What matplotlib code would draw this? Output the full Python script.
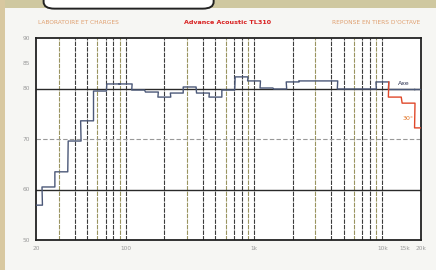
import numpy as np
import matplotlib
matplotlib.use("Agg")
import matplotlib.pyplot as plt
from matplotlib.patches import Rectangle, FancyBboxPatch

# third-octave band centres (Hz)
bands = [20, 25, 31.5, 40, 50, 63, 80, 100, 125, 160, 200, 250, 315, 400, 500,
         630, 800, 1000, 1250, 1600, 2000, 2500, 3150, 4000, 5000, 6300, 8000,
         10000, 12500, 16000, 20000]
# on-axis response (dB)
axe_db = [56.9, 60.5, 63.5, 69.6, 73.6, 79.5, 80.9, 80.9, 79.7, 79.3, 78.3,
          79.1, 80.3, 79.1, 78.3, 79.7, 82.3, 81.5, 80.1, 79.9, 81.3, 81.5,
          81.5, 81.5, 79.9, 79.9, 79.9, 81.3, 79.8, 79.8, 79.8]
# 30 degrees off-axis, top bands only
off_bands = [10000, 12500, 16000, 20000]
off_db = [81.3, 78.3, 77.1, 72.2]

y_ticks = [50, 60, 70, 80, 85, 90]
y_labels = ["50", "60", "70", "80", "85", "90"]
x_ticks = [20, 100, 1000, 10000, 15000, 20000]
x_labels = ["20", "100", "1k", "10k", "15k", "20k"]


def band_steps(centres, values):
    # step outline: each band spans f*2^(-1/6) .. f*2^(1/6)
    xs, ys = [], []
    for f, v in zip(centres, values):
        xs += [f * 2 ** (-1 / 6), f * 2 ** (1 / 6)]
        ys += [v, v]
    return xs, ys


fig = plt.figure(figsize=(4.36, 2.70), dpi=100)
fig.patch.set_facecolor("#f6f6f3")

# bits of the magazine page around the chart
fig.add_artist(Rectangle((0, 0.972), 1, 0.028, transform=fig.transFigure,
                         facecolor="#cfc8a0", edgecolor="none"))
fig.add_artist(Rectangle((0, 0), 0.012, 1, transform=fig.transFigure,
                         facecolor="#d8c8a0", edgecolor="none"))
fig.add_artist(FancyBboxPatch((0.10, 0.968), 0.39, 0.1, transform=fig.transFigure,
                              boxstyle="round,pad=0,rounding_size=0.025",
                              facecolor="white", edgecolor="#222222", lw=1.4))

ax = fig.add_axes([36 / 436, 30 / 270, 385 / 436, 202 / 270])
ax.set_facecolor("white")
ax.set_xscale("log")
ax.set_xlim(20, 20000)
ax.set_ylim(50, 90)

# log grid, minor lines at 2..9 of each decade
for dec in [10, 100, 1000]:
    for m in range(2, 11):
        f = dec * m
        if 20 < f < 20000:
            col = "#9a9460" if m in (3, 6, 9) else "#3c3c3c"
            ax.axvline(f, color=col, lw=0.8, ls=(0, (4, 1)), zorder=1)

ax.axhline(80, color="#2a2a2a", lw=1.0, zorder=1)
ax.axhline(60, color="#2a2a2a", lw=1.0, zorder=1)
ax.axhline(70, color="#999999", lw=0.8, ls=(0, (4, 2)), zorder=1)

x, y = band_steps(bands, axe_db)
ax.plot(x, y, color="#4b5878", lw=1.0, zorder=3)
x, y = band_steps(off_bands, off_db)
ax.plot(x[1:], y[1:], color="#e0482a", lw=1.0, zorder=4)

ax.text(13200, 80.6, "Axe", fontsize=4.5, color="#2a3050")
ax.text(14300, 73.8, "30°", fontsize=4.5, color="#e07020")

for s in ax.spines.values():
    s.set_color("#222222")
    s.set_linewidth(1.3)

ax.set_yticks(y_ticks)
ax.set_yticklabels(y_labels)
ax.set_xticks(x_ticks)
ax.set_xticklabels(x_labels)
ax.minorticks_off()
ax.tick_params(length=0, labelsize=4.2, colors="#999999", pad=4)

fig.text(38 / 436, 1 - 22 / 270, "LABORATOIRE ET CHARGES", fontsize=4.2,
         color="#e0a070", va="center")
fig.text(228 / 436, 1 - 22 / 270, "Advance Acoustic TL310", fontsize=4.6,
         color="#d82020", va="center", ha="center", fontweight="bold")
fig.text(420 / 436, 1 - 22 / 270, "REPONSE EN TIERS D'OCTAVE", fontsize=4.2,
         color="#e0a070", va="center", ha="right")

fig.savefig("out.png", dpi=100, facecolor=fig.get_facecolor())
